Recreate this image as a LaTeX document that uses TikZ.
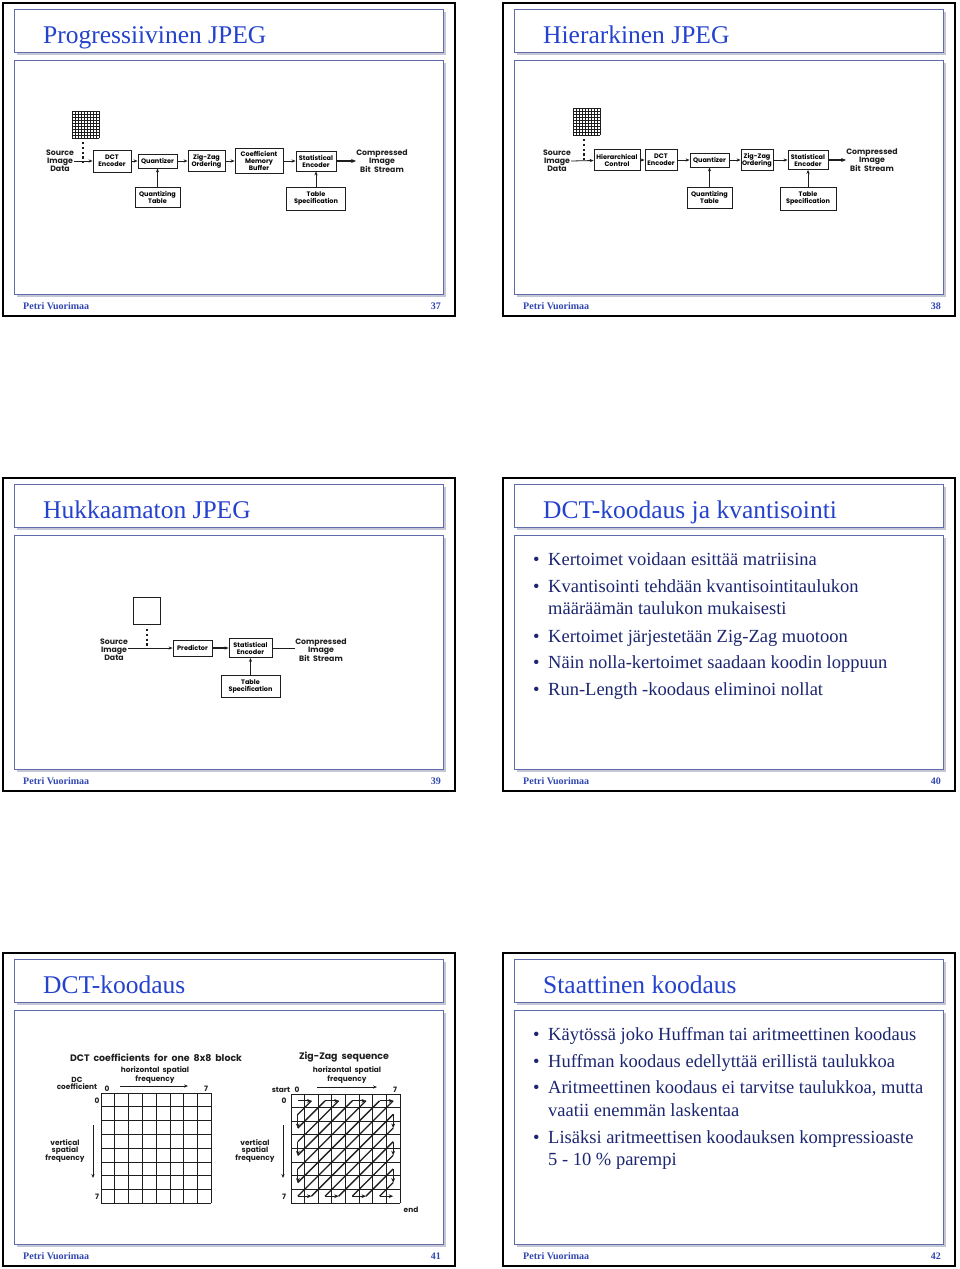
\documentclass[tikz,border=0pt]{standalone}
\usepackage{fontspec}
\setmainfont{Liberation Serif}
\newfontfamily\dgf{Poppins}
\usetikzlibrary{arrows.meta}
\definecolor{ttlblue}{RGB}{36,66,204}
\definecolor{footblue}{RGB}{48,70,176}
\definecolor{bodyblue}{RGB}{28,38,112}
\definecolor{panblue}{RGB}{96,108,168}
\definecolor{shdgray}{RGB}{196,198,214}
\definecolor{ink}{RGB}{30,30,30}
\tikzset{
  frm/.style={draw=black,line width=1.8pt},
  pan/.style={draw=panblue,fill=white,line width=0.9pt},
  shd/.style={fill=shdgray},
  ttl/.style={anchor=base west,inner sep=0,text=ttlblue,font=\fontsize{25.5}{30}\selectfont},
  foot/.style={inner sep=0,text=footblue,font=\bfseries\fontsize{10}{12}\selectfont},
  itm/.style={anchor=base west,inner sep=0,text=bodyblue,font=\fontsize{18.5}{22}\selectfont},
  blk/.style={draw=ink,line width=0.8pt,inner sep=0,align=center,fill=white,
    font=\dgf\bfseries\fontsize{6.5}{7}\selectfont},
  lbl/.style={inner sep=0,align=center,text=ink,font=\dgf\bfseries\fontsize{7.8}{8.2}\selectfont},
  small/.style={inner sep=0,align=center,text=ink,font=\dgf\bfseries\fontsize{7.4}{7.2}\selectfont},
  hdr/.style={inner sep=0,text=ink,font=\dgf\bfseries\fontsize{9.4}{10}\selectfont},
  arr/.style={-{Stealth[length=4pt,width=3.2pt]},line width=0.8pt,ink},
  tarr/.style={-{Stealth[length=5pt,width=4pt]},line width=1.6pt,ink},
  dotl/.style={line width=1.4pt,ink,dash pattern=on 2.2pt off 2.6pt},
  gline/.style={line width=0.8pt,ink},
  zarr/.style={-{Stealth[length=4.5pt,width=3.8pt]},line width=1.2pt,ink},
  zln/.style={line width=1.3pt,ink}
}
% one slide: frame, title panel, body panel, footer
\newcommand\slidebox[5]{%
  \begin{scope}[shift={(#1,#2)}]
    \draw[frm] (3,3) rectangle (455,316);
    \fill[shd] (17,12) rectangle (446,55);
    \draw[pan] (14,9) rectangle (443,52);
    \fill[shd] (17,63) rectangle (446,297);
    \draw[pan] (14,60) rectangle (443,294);
    \node[ttl] (#5-ttl) at (43,43) {#3};
    \node[foot,anchor=base west] (#5-au) at (23,309) {Petri Vuorimaa};
    \node[foot,anchor=base east] (#5-nr) at (441,309) {#4};
  \end{scope}}

\begin{document}
\begin{tikzpicture}[x=1pt,y=-1pt]
  \useasboundingbox[fill=white] (0,0) rectangle (960,1269);

  \slidebox{0}{0}{Progressiivinen JPEG}{37}{s37}
  \slidebox{500}{0}{Hierarkinen JPEG}{38}{s38}
  \slidebox{0}{475}{Hukkaamaton JPEG}{39}{s39}
  \slidebox{500}{475}{DCT-koodaus ja kvantisointi}{40}{s40}
  \slidebox{0}{950}{DCT-koodaus}{41}{s41}
  \slidebox{500}{950}{Staattinen koodaus}{42}{s42}

  % --- 37: progressive pipeline
  \foreach \k in {0,...,9} {
    \draw[line width=0.5pt,ink] (72+3*\k,111) -- (72+3*\k,138);
    \draw[line width=0.5pt,ink] (72,111+3*\k) -- (99,111+3*\k);
  }
  \draw[dotl] (83,142) -- (83,165);
  \node[lbl] (src1) at (60,161) {Source\\Image\\Data};
  \node[blk,minimum width=38,minimum height=22] (dct1) at (112,161) {DCT\\Encoder};
  \node[blk,minimum width=39,minimum height=14] (qnt1) at (157.5,161) {Quantizer};
  \node[blk,minimum width=37,minimum height=21] (zz1) at (206.5,161) {Zig-Zag\\Ordering};
  \node[blk,minimum width=48,minimum height=25] (cmb1) at (259,161) {Coefficient\\Memory\\Buffer};
  \node[blk,minimum width=40,minimum height=20] (se1) at (316,161) {Statistical\\Encoder};
  \node[lbl] (out1) at (382,161) {Compressed\\Image\\Bit\ \ Stream};
  \node[blk,minimum width=45,minimum height=20] (qt1) at (157.5,197) {Quantizing\\Table};
  \node[blk,minimum width=59,minimum height=23] (ts1) at (316,198.5) {Table\\Specification};
  \draw[arr] (src1.east) -- (dct1);
  \draw[arr] (dct1) -- (qnt1);
  \draw[arr] (qnt1) -- (zz1);
  \draw[arr] (zz1) -- (cmb1);
  \draw[arr] (cmb1) -- (se1);
  \draw[tarr] (se1) -- (out1);
  \draw[arr] (qt1) -- (qnt1);
  \draw[arr] (ts1) -- (se1);

  % --- 38: hierarchical pipeline
  \foreach \k in {0,...,9} {
    \draw[line width=0.5pt,ink] (573+3*\k,108) -- (573+3*\k,135);
    \draw[line width=0.5pt,ink] (573,108+3*\k) -- (600,108+3*\k);
  }
  \draw[dotl] (584,139) -- (584,162);
  \node[lbl] (src2) at (557,161) {Source\\Image\\Data};
  \node[blk,minimum width=46,minimum height=21] (hc2) at (617,160) {Hierarchical\\Control};
  \node[blk,minimum width=32,minimum height=21] (dct2) at (661,160) {DCT\\Encoder};
  \node[blk,minimum width=39,minimum height=14] (qnt2) at (709.5,160) {Quantizer};
  \node[blk,minimum width=32,minimum height=21] (zz2) at (757,160) {Zig-Zag\\Ordering};
  \node[blk,minimum width=40,minimum height=19] (se2) at (808,160) {Statistical\\Encoder};
  \node[lbl] (out2) at (872,160) {Compressed\\Image\\Bit\ \ Stream};
  \node[blk,minimum width=45,minimum height=21] (qt2) at (709.5,197.5) {Quantizing\\Table};
  \node[blk,minimum width=56,minimum height=23] (ts2) at (808,198.5) {Table\\Specification};
  \draw[arr] (src2.east) -- (hc2);
  \draw[arr] (hc2) -- (dct2);
  \draw[arr] (dct2) -- (qnt2);
  \draw[arr] (qnt2) -- (zz2);
  \draw[arr] (zz2) -- (se2);
  \draw[tarr] (se2) -- (out2);
  \draw[arr] (qt2) -- (qnt2);
  \draw[arr] (ts2) -- (se2);

  % --- 39: lossless pipeline
  \draw[gline] (133,597) rectangle (160,624);
  \draw[dotl] (147,629) -- (147,646);
  \node[lbl] (src3) at (114,650) {Source\\Image\\Data};
  \node[blk,minimum width=39,minimum height=16] (prd3) at (192.5,648) {Predictor};
  \node[blk,minimum width=43,minimum height=19] (se3) at (250.5,648) {Statistical\\Encoder};
  \node[lbl] (out3) at (321,650) {Compressed\\Image\\Bit\ \ Stream};
  \node[blk,minimum width=59,minimum height=22] (ts3) at (250.5,686) {Table\\Specification};
  \draw[arr] (src3.east |- prd3.west) -- (prd3.west);
  \draw[arr,line width=1.2pt] (prd3) -- (se3);
  \draw[gline] (se3.east) -- (out3.west |- se3.east);
  \draw[arr] (ts3) -- (se3);

  % --- 40: bullet text
  \node[itm] (p40-1) at (533,565) {\textbullet};
  \node[itm] (t40-1) at (548,565) {Kertoimet voidaan esittää matriisina};
  \node[itm] (p40-2) at (533,592) {\textbullet};
  \node[itm] (t40-2) at (548,592) {Kvantisointi tehdään kvantisointitaulukon};
  \node[itm] (t40-2b) at (548,614) {määräämän taulukon mukaisesti};
  \node[itm] (p40-3) at (533,642) {\textbullet};
  \node[itm] (t40-3) at (548,642) {Kertoimet järjestetään Zig-Zag muotoon};
  \node[itm] (p40-4) at (533,668) {\textbullet};
  \node[itm] (t40-4) at (548,668) {Näin nolla-kertoimet saadaan koodin loppuun};
  \node[itm] (p40-5) at (533,695) {\textbullet};
  \node[itm] (t40-5) at (548,695) {Run-Length -koodaus eliminoi nollat};

  % --- 41: coefficient block and zig-zag
  \node[hdr] (hd41a) at (156,1058) {DCT\ \ coefficients\ \ for\ \ one\ \ 8x8\ \ block};
  \node[small] (hf41a) at (155,1075) {horizontal\ \ spatial\\frequency};
  \coordinate (ha0) at (120,1086);
  \coordinate (ha1) at (188,1086);
  \draw[arr] (ha0) -- (ha1);
  \node[small] (dc41) at (77,1083) {DC\\coefficient};
  \node[small] (c0a) at (107,1089) {0};
  \node[small] (c7a) at (206,1089) {7};
  \node[small] (r0a) at (97,1101) {0};
  \node[small] (r7a) at (97,1197) {7};
  \coordinate (va0) at (93,1125);
  \coordinate (va1) at (93,1178);
  \draw[arr] (va0) -- (va1);
  \node[small] (vf41a) at (65,1151) {vertical\\spatial\\frequency};
  \foreach \k in {0,...,8} {
    \draw[gline] (101+13.8*\k,1093) -- (101+13.8*\k,1203.4);
    \draw[gline] (101,1093+13.8*\k) -- (211.4,1093+13.8*\k);
  }

  \node[hdr] (hd41b) at (344,1057) {Zig-Zag\ \ sequence};
  \node[small] (hf41b) at (347,1075) {horizontal\ \ spatial\\frequency};
  \coordinate (hb0) at (317,1087);
  \coordinate (hb1) at (377,1087);
  \draw[arr] (hb0) -- (hb1);
  \node[small] (st41) at (281,1090) {start};
  \node[small] (c0b) at (297,1090) {0};
  \node[small] (c7b) at (395,1090) {7};
  \node[small] (r0b) at (284,1101) {0};
  \node[small] (r7b) at (284,1197) {7};
  \node[small] (en41) at (411,1210) {end};
  \coordinate (vb0) at (283,1125);
  \coordinate (vb1) at (283,1178);
  \draw[arr] (vb0) -- (vb1);
  \node[small] (vf41b) at (255,1151) {vertical\\spatial\\frequency};
  \foreach \k in {0,...,8} {
    \draw[gline] (291+13.625*\k,1094) -- (291+13.625*\k,1203);
    \draw[gline] (291,1094+13.625*\k) -- (400,1094+13.625*\k);
  }
  \foreach \i in {0,...,7}
    \foreach \j in {0,...,7}
      \coordinate (z-\i-\j) at ({291+13.625*(\j+0.5)},{1094+13.625*(\i+0.5)});
  \foreach \a/\b/\c/\d in {0/1/1/0,2/0/0/2,0/3/3/0,4/0/0/4,0/5/5/0,6/0/0/6,0/7/7/0,
      7/1/1/7,2/7/7/2,7/3/3/7,4/7/7/4,7/5/5/7,6/7/7/6}
    \draw[zln] (z-\a-\b) -- (z-\c-\d);
  \foreach \a/\b/\c/\d in {0/0/0/1,1/0/2/0,0/2/0/3,3/0/4/0,0/4/0/5,5/0/6/0,0/6/0/7,
      7/0/7/1,1/7/2/7,7/2/7/3,3/7/4/7,7/4/7/5,5/7/6/7,7/6/7/7}
    \draw[zarr] (z-\a-\b) -- (z-\c-\d);

  % --- 42: bullet text
  \node[itm] (p42-1) at (533,1040) {\textbullet};
  \node[itm] (t42-1) at (548,1040) {Käytössä joko Huffman tai aritmeettinen koodaus};
  \node[itm] (p42-2) at (533,1067) {\textbullet};
  \node[itm] (t42-2) at (548,1067) {Huffman koodaus edellyttää erillistä taulukkoa};
  \node[itm] (p42-3) at (533,1093) {\textbullet};
  \node[itm] (t42-3) at (548,1093) {Aritmeettinen koodaus ei tarvitse taulukkoa, mutta};
  \node[itm] (t42-3b) at (548,1116) {vaatii enemmän laskentaa};
  \node[itm] (p42-4) at (533,1143) {\textbullet};
  \node[itm] (t42-4) at (548,1143) {Lisäksi aritmeettisen koodauksen kompressioaste};
  \node[itm] (t42-4b) at (548,1165) {5 - 10 \% parempi};
\end{tikzpicture}
\end{document}
